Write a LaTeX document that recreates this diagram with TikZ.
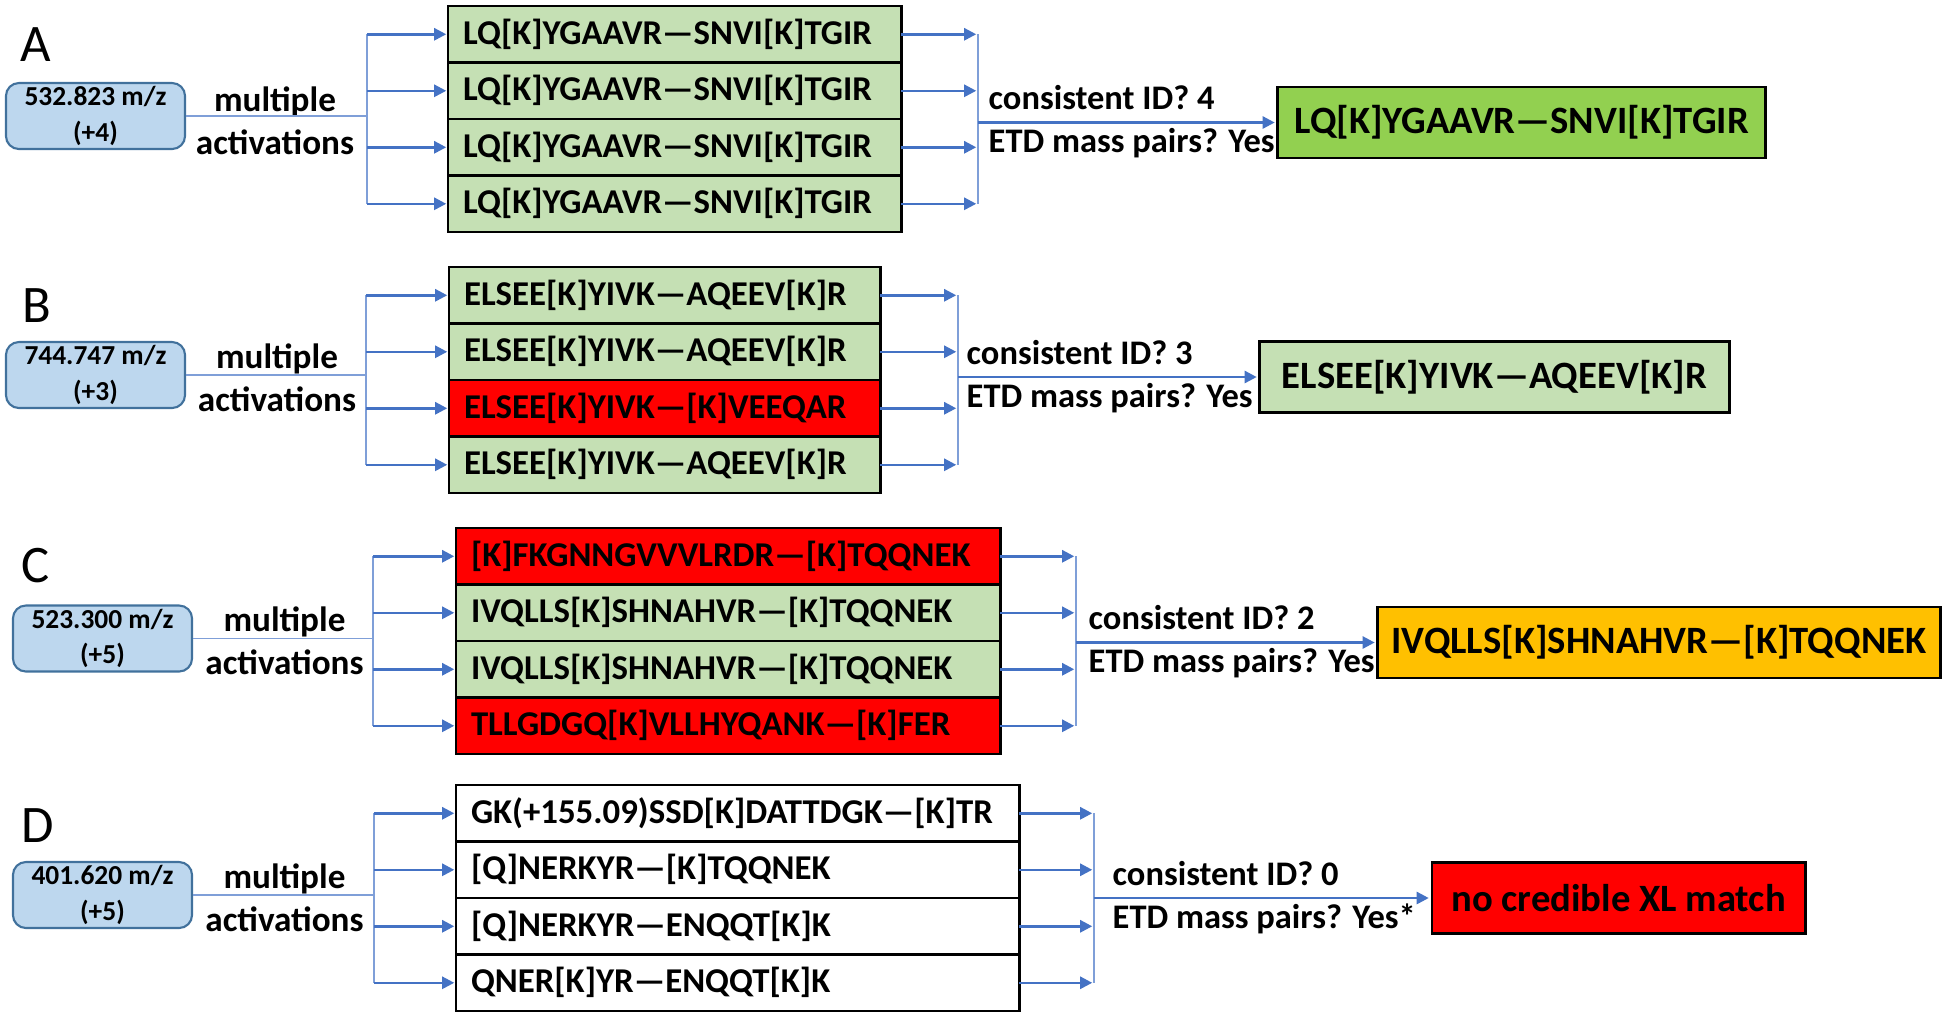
\documentclass[tikz,border=0pt]{standalone}
\usepackage{fontspec}
\setmainfont{Carlito}
\usetikzlibrary{arrows.meta, positioning}

\definecolor{precfill}{HTML}{BDD7EE}
\definecolor{precdraw}{HTML}{41719C}
\definecolor{flowblue}{HTML}{4472C4}
\definecolor{linkblue}{HTML}{7F9FD8}
\definecolor{okgreen}{HTML}{C5E0B4}
\definecolor{bestgreen}{HTML}{92D050}
\definecolor{badred}{HTML}{FF0000}
\definecolor{midorange}{HTML}{FFC000}

\begin{document}
\begin{tikzpicture}[
    % one unit = one pixel of the 1948x1017 layout, y going down
    x=0.01cm, y=-0.01cm,
    >={Triangle[length=1.2mm, width=1.2mm]},
    panel/.style={font=\fontsize{15}{18}\selectfont},
    precursor/.style={draw=precdraw, fill=precfill, line width=0.6pt,
        rounded corners=1.3mm, minimum width=1.79cm, minimum height=0.66cm,
        inner sep=0pt, align=center, font=\bfseries\fontsize{7.8}{10}\selectfont},
    acttext/.style={align=center, font=\bfseries\fontsize{10}{12.2}\selectfont},
    hit/.style={draw=black, line width=0.8pt, outer sep=0pt, anchor=north west,
        minimum height=0.565cm, inner xsep=0.15cm, text width=#1, align=left,
        font=\bfseries\fontsize{9.9}{12}\selectfont},
    decision/.style={inner xsep=0pt, font=\bfseries\fontsize{9.8}{12}\selectfont},
    result/.style={draw=black, line width=0.8pt, minimum height=0.71cm,
        font=\bfseries\fontsize{11}{13}\selectfont},
    flow/.style={flowblue, line width=0.7pt, shorten >=0.5pt},
    link/.style={linkblue, line width=0.45pt}
]
    \useasboundingbox (0,0) rectangle (1948,1017);

    % --- Panel A ---
    \node[panel] (lblA) at (36,45) {A};
    \node[precursor] (precA) at (95.5,116) {532.823 m/z\\(+4)};
    \node[acttext] (actA) at (275,121) {multiple\\activations};
    \foreach \i/\seq in {1/{LQ[K]YGAAVR—SNVI[K]TGIR}, 2/{LQ[K]YGAAVR—SNVI[K]TGIR},
                         3/{LQ[K]YGAAVR—SNVI[K]TGIR}, 4/{LQ[K]YGAAVR—SNVI[K]TGIR}}
        \node[hit=4.23cm, fill=okgreen] (rowA\i) at (448,{6+56.5*(\i-1)}) {\seq};
    \node[result, fill=bestgreen, minimum width=4.87cm] (resA) at (1521.5,122.5) {LQ[K]YGAAVR—SNVI[K]TGIR};
    \coordinate (splitA) at (367,116);
    \coordinate (mergeA) at (978,122.5);
    \draw[link] (precA.east) -- (splitA);
    \draw[link] (splitA |- rowA1) -- (splitA |- rowA4);
    \draw[link] (mergeA |- rowA1) -- (mergeA |- rowA4);
    \foreach \i in {1,...,4} {
        \draw[flow, ->] (splitA |- rowA\i) -- (rowA\i.west);
        \draw[flow, ->] (rowA\i.east) -- (mergeA |- rowA\i);
    }
    \draw[flow, ->] (mergeA) -- (resA.west);
    \node[decision, anchor=south west] (idA) at ([xshift=0.1cm]mergeA) {consistent ID? 4};
    \node[decision, anchor=north west, inner ysep=1.5pt] (etdA) at ([xshift=0.1cm]mergeA) {ETD mass pairs? Yes};

    % --- Panel B ---
    \node[panel] (lblB) at (37,306) {B};
    \node[precursor] (precB) at (95.5,375) {744.747 m/z\\(+3)};
    \node[acttext] (actB) at (277,378) {multiple\\activations};
    \foreach \i/\seq/\col in {1/{ELSEE[K]YIVK—AQEEV[K]R}/okgreen, 2/{ELSEE[K]YIVK—AQEEV[K]R}/okgreen,
                              3/{ELSEE[K]YIVK—[K]VEEQAR}/badred, 4/{ELSEE[K]YIVK—AQEEV[K]R}/okgreen}
        \node[hit=4.01cm, fill=\col] (rowB\i) at (449,{267+56.5*(\i-1)}) {\seq};
    \node[result, fill=okgreen, minimum width=4.69cm] (resB) at (1494.5,377) {ELSEE[K]YIVK—AQEEV[K]R};
    \coordinate (splitB) at (366,375);
    \coordinate (mergeB) at (958,377);
    \draw[link] (precB.east) -- (splitB);
    \draw[link] (splitB |- rowB1) -- (splitB |- rowB4);
    \draw[link] (mergeB |- rowB1) -- (mergeB |- rowB4);
    \foreach \i in {1,...,4} {
        \draw[flow, ->] (splitB |- rowB\i) -- (rowB\i.west);
        \draw[flow, ->] (rowB\i.east) -- (mergeB |- rowB\i);
    }
    \draw[flow, ->] (mergeB) -- (resB.west);
    \node[decision, anchor=south west] (idB) at ([xshift=0.08cm]mergeB) {consistent ID? 3};
    \node[decision, anchor=north west, inner ysep=1.5pt] (etdB) at ([xshift=0.08cm]mergeB) {ETD mass pairs? Yes};

    % --- Panel C ---
    \node[panel] (lblC) at (36,566) {C};
    \node[precursor] (precC) at (102.5,638.5) {523.300 m/z\\(+5)};
    \node[acttext] (actC) at (284.5,641) {multiple\\activations};
    \foreach \i/\seq/\col in {1/{[K]FKGNNGVVVLRDR—[K]TQQNEK}/badred, 2/{IVQLLS[K]SHNAHVR—[K]TQQNEK}/okgreen,
                              3/{IVQLLS[K]SHNAHVR—[K]TQQNEK}/okgreen, 4/{TLLGDGQ[K]VLLHYQANK—[K]FER}/badred}
        \node[hit=5.14cm, fill=\col] (rowC\i) at (456,{528+56.5*(\i-1)}) {\seq};
    \node[result, fill=midorange, minimum width=5.62cm] (resC) at (1659,642.5) {IVQLLS[K]SHNAHVR—[K]TQQNEK};
    \coordinate (splitC) at (373,638.5);
    \coordinate (mergeC) at (1076,642.5);
    \draw[link] (precC.east) -- (splitC);
    \draw[link] (splitC |- rowC1) -- (splitC |- rowC4);
    \draw[link] (mergeC |- rowC1) -- (mergeC |- rowC4);
    \foreach \i in {1,...,4} {
        \draw[flow, ->] (splitC |- rowC\i) -- (rowC\i.west);
        \draw[flow, ->] (rowC\i.east) -- (mergeC |- rowC\i);
    }
    \draw[flow, ->] (mergeC) -- (resC.west);
    \node[decision, anchor=south west] (idC) at ([xshift=0.12cm]mergeC) {consistent ID? 2};
    \node[decision, anchor=north west, inner ysep=1.5pt] (etdC) at ([xshift=0.12cm]mergeC) {ETD mass pairs? Yes};

    % --- Panel D ---
    \node[panel] (lblD) at (38,826) {D};
    \node[precursor] (precD) at (102.5,895) {401.620 m/z\\(+5)};
    \node[acttext] (actD) at (284.5,898) {multiple\\activations};
    \foreach \i/\seq in {1/{GK(+155.09)SSD[K]DATTDGK—[K]TR}, 2/{[Q]NERKYR—[K]TQQNEK},
                         3/{[Q]NERKYR—ENQQT[K]K}, 4/{QNER[K]YR—ENQQT[K]K}}
        \node[hit=5.33cm, fill=white] (rowD\i) at (456,{785+56.5*(\i-1)}) {\seq};
    \node[result, fill=badred, minimum width=3.73cm] (resD) at (1618.5,898) {no credible XL match};
    \coordinate (splitD) at (374,895);
    \coordinate (mergeD) at (1094,898);
    \draw[link] (precD.east) -- (splitD);
    \draw[link] (splitD |- rowD1) -- (splitD |- rowD4);
    \draw[link] (mergeD |- rowD1) -- (mergeD |- rowD4);
    \foreach \i in {1,...,4} {
        \draw[flow, ->] (splitD |- rowD\i) -- (rowD\i.west);
        \draw[flow, ->] (rowD\i.east) -- (mergeD |- rowD\i);
    }
    \draw[flow, ->] (mergeD) -- (resD.west);
    \node[decision, anchor=south west] (idD) at ([xshift=0.18cm]mergeD) {consistent ID? 0};
    \node[decision, anchor=north west, inner ysep=1.5pt] (etdD) at ([xshift=0.18cm]mergeD) {ETD mass pairs? Yes*};
\end{tikzpicture}
\end{document}
